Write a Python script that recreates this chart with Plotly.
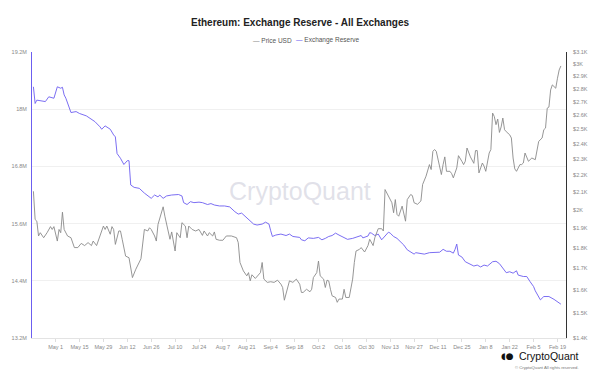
import math
import plotly.graph_objects as go

reserve_dates = [
    "2023-04-18", "2023-04-19", "2023-04-20", "2023-04-22", "2023-04-25", "2023-04-27", "2023-04-29", "2023-04-30",
    "2023-05-02", "2023-05-04", "2023-05-05", "2023-05-06", "2023-05-07", "2023-05-09", "2023-05-10", "2023-05-13",
    "2023-05-15", "2023-05-19", "2023-05-21", "2023-05-24", "2023-05-27", "2023-05-28", "2023-05-30", "2023-06-02",
    "2023-06-04", "2023-06-05", "2023-06-06", "2023-06-08", "2023-06-10", "2023-06-12", "2023-06-13", "2023-06-14",
    "2023-06-16", "2023-06-19", "2023-06-22", "2023-06-25", "2023-06-26", "2023-06-28", "2023-06-30", "2023-07-01",
    "2023-07-03", "2023-07-05", "2023-07-07", "2023-07-08", "2023-07-12", "2023-07-14", "2023-07-15", "2023-07-17",
    "2023-07-19", "2023-07-21", "2023-07-24", "2023-07-26", "2023-07-29", "2023-07-31", "2023-08-02", "2023-08-05",
    "2023-08-08", "2023-08-11", "2023-08-14", "2023-08-16", "2023-08-18", "2023-08-20", "2023-08-22", "2023-08-25",
    "2023-08-27", "2023-08-30", "2023-09-01", "2023-09-03", "2023-09-04", "2023-09-05", "2023-09-07", "2023-09-10",
    "2023-09-13", "2023-09-15", "2023-09-17", "2023-09-21", "2023-09-22", "2023-09-24", "2023-09-26", "2023-09-29",
    "2023-10-02", "2023-10-04", "2023-10-06", "2023-10-08", "2023-10-10", "2023-10-12", "2023-10-14", "2023-10-17",
    "2023-10-19", "2023-10-22", "2023-10-25", "2023-10-27", "2023-10-28", "2023-10-31", "2023-11-01", "2023-11-02",
    "2023-11-04", "2023-11-06", "2023-11-08", "2023-11-10", "2023-11-12", "2023-11-13", "2023-11-15", "2023-11-17",
    "2023-11-19", "2023-11-21", "2023-11-23", "2023-11-25", "2023-11-27", "2023-11-28", "2023-11-30", "2023-12-03",
    "2023-12-06", "2023-12-09", "2023-12-12", "2023-12-14", "2023-12-16", "2023-12-18", "2023-12-20", "2023-12-21",
    "2023-12-22", "2023-12-23", "2023-12-25", "2023-12-27", "2023-12-29", "2024-01-01", "2024-01-03", "2024-01-05",
    "2024-01-07", "2024-01-09", "2024-01-12", "2024-01-14", "2024-01-16", "2024-01-18", "2024-01-20", "2024-01-22",
    "2024-01-24", "2024-01-26", "2024-01-27", "2024-01-30", "2024-02-01", "2024-02-03", "2024-02-05", "2024-02-06",
    "2024-02-09", "2024-02-11", "2024-02-14", "2024-02-17", "2024-02-20", "2024-02-21",
]
reserve_values_m = [
    18.47, 18.12, 18.19, 18.18, 18.16, 18.26, 18.23, 18.23,
    18.47, 18.44, 18.46, 18.30, 18.23, 18.05, 17.93, 17.95,
    17.91, 17.86, 17.81, 17.74, 17.63, 17.58, 17.65, 17.58,
    17.46, 17.42, 17.07, 16.97, 16.84, 16.92, 16.92, 16.41,
    16.36, 16.34, 16.24, 16.15, 16.13, 16.20, 16.16, 16.20,
    16.13, 16.18, 16.20, 16.20, 16.21, 16.18, 16.04, 16.00,
    16.06, 16.04, 16.05, 16.04, 16.00, 16.02, 15.99, 15.97,
    15.97, 15.95, 15.85, 15.80, 15.82, 15.75, 15.68, 15.59,
    15.57, 15.59, 15.63, 15.59, 15.45, 15.33, 15.36, 15.38,
    15.35, 15.38, 15.33, 15.31, 15.26, 15.24, 15.30, 15.29,
    15.31, 15.26, 15.29, 15.33, 15.35, 15.40, 15.36, 15.30,
    15.27, 15.29, 15.33, 15.35, 15.30, 15.34, 15.41, 15.40,
    15.35, 15.38, 15.26, 15.35, 15.42, 15.40, 15.33, 15.29,
    15.22, 15.15, 15.05, 15.01, 14.96, 14.99, 14.98, 14.96,
    14.99, 15.00, 15.00, 15.06, 15.02, 15.02, 14.98, 15.06,
    15.17, 14.94, 14.90, 14.80, 14.76, 14.71, 14.73, 14.69,
    14.73, 14.71, 14.80, 14.81, 14.76, 14.66, 14.57, 14.59,
    14.56, 14.61, 14.52, 14.49, 14.49, 14.38, 14.28, 14.19,
    14.00, 14.07, 14.07, 14.01, 13.94, 13.91,
]

price_dates = [
    "2023-04-18", "2023-04-19", "2023-04-20", "2023-04-21", "2023-04-22", "2023-04-24", "2023-04-26", "2023-04-28",
    "2023-04-29", "2023-04-30", "2023-05-02", "2023-05-03", "2023-05-04", "2023-05-05", "2023-05-06", "2023-05-08",
    "2023-05-10", "2023-05-12", "2023-05-14", "2023-05-16", "2023-05-18", "2023-05-20", "2023-05-22", "2023-05-23",
    "2023-05-25", "2023-05-27", "2023-05-29", "2023-05-30", "2023-05-31", "2023-06-02", "2023-06-03", "2023-06-04",
    "2023-06-05", "2023-06-07", "2023-06-08", "2023-06-09", "2023-06-11", "2023-06-13", "2023-06-14", "2023-06-15",
    "2023-06-17", "2023-06-19", "2023-06-20", "2023-06-22", "2023-06-24", "2023-06-25", "2023-06-26", "2023-06-28",
    "2023-06-29", "2023-06-30", "2023-07-01", "2023-07-03", "2023-07-04", "2023-07-06", "2023-07-07", "2023-07-08",
    "2023-07-10", "2023-07-11", "2023-07-13", "2023-07-14", "2023-07-16", "2023-07-17", "2023-07-18", "2023-07-20",
    "2023-07-22", "2023-07-24", "2023-07-26", "2023-07-27", "2023-07-29", "2023-07-30", "2023-08-01", "2023-08-02",
    "2023-08-03", "2023-08-05", "2023-08-07", "2023-08-09", "2023-08-12", "2023-08-15", "2023-08-16", "2023-08-17",
    "2023-08-19", "2023-08-21", "2023-08-22", "2023-08-23", "2023-08-24", "2023-08-26", "2023-08-27", "2023-08-29",
    "2023-08-30", "2023-08-31", "2023-09-02", "2023-09-04", "2023-09-06", "2023-09-08", "2023-09-10", "2023-09-11",
    "2023-09-12", "2023-09-14", "2023-09-15", "2023-09-17", "2023-09-18", "2023-09-19", "2023-09-21", "2023-09-22",
    "2023-09-23", "2023-09-25", "2023-09-27", "2023-09-28", "2023-09-29", "2023-10-01", "2023-10-02", "2023-10-03",
    "2023-10-05", "2023-10-06", "2023-10-07", "2023-10-08", "2023-10-09", "2023-10-10", "2023-10-12", "2023-10-13",
    "2023-10-14", "2023-10-16", "2023-10-17", "2023-10-18", "2023-10-20", "2023-10-22", "2023-10-23", "2023-10-24",
    "2023-10-26", "2023-10-27", "2023-10-29", "2023-10-31", "2023-11-01", "2023-11-03", "2023-11-04", "2023-11-06",
    "2023-11-08", "2023-11-09", "2023-11-10", "2023-11-12", "2023-11-14", "2023-11-15", "2023-11-16", "2023-11-17",
    "2023-11-18", "2023-11-20", "2023-11-22", "2023-11-23", "2023-11-25", "2023-11-26", "2023-11-27", "2023-11-29",
    "2023-12-01", "2023-12-02", "2023-12-04", "2023-12-06", "2023-12-07", "2023-12-08", "2023-12-09", "2023-12-10",
    "2023-12-12", "2023-12-13", "2023-12-14", "2023-12-15", "2023-12-16", "2023-12-18", "2023-12-19", "2023-12-20",
    "2023-12-22", "2023-12-23", "2023-12-25", "2023-12-26", "2023-12-27", "2023-12-28", "2023-12-30", "2023-12-31",
    "2024-01-01", "2024-01-02", "2024-01-03", "2024-01-04", "2024-01-06", "2024-01-07", "2024-01-08", "2024-01-10",
    "2024-01-11", "2024-01-12", "2024-01-13", "2024-01-14", "2024-01-15", "2024-01-16", "2024-01-17", "2024-01-18",
    "2024-01-19", "2024-01-20", "2024-01-22", "2024-01-23", "2024-01-24", "2024-01-25", "2024-01-26", "2024-01-28",
    "2024-01-29", "2024-01-30", "2024-01-31", "2024-02-02", "2024-02-04", "2024-02-06", "2024-02-07", "2024-02-08",
    "2024-02-10", "2024-02-11", "2024-02-12", "2024-02-13", "2024-02-14", "2024-02-15", "2024-02-16", "2024-02-18",
    "2024-02-19", "2024-02-20", "2024-02-21",
]
price_values = [
    2105, 1946, 1937, 1859, 1876, 1850, 1876, 1908,
    1893, 1908, 1833, 1893, 1876, 1986, 1893, 1859,
    1850, 1800, 1800, 1821, 1810, 1825, 1810, 1833,
    1810, 1859, 1911, 1893, 1911, 1868, 1908, 1893,
    1816, 1885, 1885, 1842, 1758, 1750, 1710, 1656,
    1695, 1729, 1745, 1893, 1885, 1902, 1893, 1859,
    1833, 1920, 1956, 2016, 1964, 1885, 1842, 1880,
    1783, 1876, 1850, 1929, 1911, 1850, 1911, 1893,
    1885, 1893, 1862, 1885, 1859, 1876, 1859, 1880,
    1842, 1837, 1837, 1859, 1859, 1850, 1825, 1727,
    1687, 1664, 1679, 1641, 1669, 1652, 1662, 1679,
    1727, 1649, 1634, 1637, 1634, 1644, 1626, 1611,
    1555, 1611, 1641, 1634, 1641, 1649, 1626, 1589,
    1589, 1603, 1592, 1603, 1656, 1679, 1734, 1664,
    1649, 1611, 1644, 1641, 1603, 1574, 1567, 1546,
    1560, 1560, 1603, 1567, 1567, 1649, 1727, 1783,
    1791, 1800, 1778, 1810, 1842, 1810, 1850, 1897,
    1897, 1885, 2115, 2076, 2039, 1983, 2057, 1974,
    1964, 2020, 1937, 2057, 2086, 2080, 2039, 2030,
    2049, 2145, 2195, 2267, 2236, 2352, 2364, 2352,
    2246, 2205, 2267, 2316, 2225, 2225, 2211, 2185,
    2246, 2324, 2288, 2267, 2288, 2374, 2316, 2298,
    2275, 2357, 2357, 2215, 2277, 2257, 2225, 2341,
    2364, 2616, 2591, 2533, 2573, 2479, 2517, 2580,
    2498, 2484, 2463, 2441, 2309, 2240, 2225, 2267,
    2267, 2277, 2341, 2288, 2309, 2298, 2364, 2418,
    2441, 2498, 2509, 2652, 2660, 2790, 2829, 2803,
    2882, 2949, 2982,
]

reserve_ticks_m = [13.2, 14.4, 15.6, 16.8, 18.0, 19.2]
reserve_tick_text = ["13.2M", "14.4M", "15.6M", "16.8M", "18M", "19.2M"]
price_ticks = [1400, 1500, 1600, 1700, 1800, 1900, 2000, 2100, 2200, 2300,
               2400, 2500, 2600, 2700, 2800, 2900, 3000, 3100]
price_tick_text = ["$1.4K", "$1.5K", "$1.6K", "$1.7K", "$1.8K", "$1.9K", "$2K", "$2.1K", "$2.2K",
                   "$2.3K", "$2.4K", "$2.5K", "$2.6K", "$2.7K", "$2.8K", "$2.9K", "$3K", "$3.1K"]

PURPLE = "#6c5ef0"
GRAY = "#8a8a8a"
FONT = "Liberation Sans, Arial, sans-serif"

# plot area in pixels
L, R, T, B = 29, 572, 52, 338


def px(xp):
    return (xp - L) / (R - L)


def py(yp):
    return (B - yp) / (B - T)


fig = go.Figure()
fig.add_trace(go.Scatter(
    x=price_dates, y=price_values, name="Price USD", mode="lines",
    line=dict(color=GRAY, width=0.9), yaxis="y2"))
fig.add_trace(go.Scatter(
    x=reserve_dates, y=[v * 1e6 for v in reserve_values_m], name="Exchange Reserve", mode="lines",
    line=dict(color=PURPLE, width=0.9), yaxis="y"))

fig.update_layout(
    width=600, height=377,
    margin=dict(l=L, r=600 - R, t=T, b=377 - B),
    paper_bgcolor="white", plot_bgcolor="white",
    font=dict(family=FONT, color="#555"),
    showlegend=False,
    title=dict(text="<b>Ethereum: Exchange Reserve - All Exchanges</b>",
               x=0.5, xanchor="center", y=1 - 22 / 377, yanchor="middle",
               font=dict(size=10, color="#222", family=FONT)),
    xaxis=dict(
        type="date",
        range=["2023-04-17 04:00", "2024-02-24 00:00"],
        tick0="2023-05-01", dtick=14 * 86400000, tickformat="%b %-d",
        showgrid=False, showline=True, linecolor="#e3e3e3", linewidth=1,
        ticks="outside", ticklen=3, tickcolor="#dddddd",
        tickfont=dict(size=5.5, color="#888"),
    ),
    yaxis=dict(
        range=[13.2e6, 19.2e6],
        tickvals=[v * 1e6 for v in reserve_ticks_m], ticktext=reserve_tick_text,
        showgrid=True, gridcolor="#f0f0f0", gridwidth=1, zeroline=False,
        showline=True, linecolor=PURPLE, linewidth=1,
        tickfont=dict(size=5.5, color="#888"), ticks="", ticklabelstandoff=3,
    ),
    yaxis2=dict(
        type="log", overlaying="y", side="right",
        range=[math.log10(1400), math.log10(3100)],
        tickvals=price_ticks, ticktext=price_tick_text,
        showgrid=False, zeroline=False,
        showline=True, linecolor="#333", linewidth=1,
        tickfont=dict(size=5.5, color="#888"), ticks="", ticklabelstandoff=5,
    ),
)

annotations = [
    dict(text="<span style='color:%s'>—</span> Price USD" % GRAY, x=px(252), y=py(40),
         xanchor="left", yanchor="middle",
         font=dict(size=6.5, color="#555", family=FONT)),
    dict(text="<span style='color:%s'>—</span> Exchange Reserve" % PURPLE, x=px(295), y=py(40),
         xanchor="left", yanchor="middle",
         font=dict(size=6.5, color="#555", family=FONT)),
    dict(text="CryptoQuant", x=px(302), y=py(191),
         xanchor="center", yanchor="middle",
         font=dict(size=25, color="rgba(200,200,214,0.55)", family=FONT)),
    dict(text="◖●", x=px(521), y=py(356),
         xanchor="right", yanchor="middle",
         font=dict(size=9, color="#111", family="DejaVu Sans")),
    dict(text="CryptoQuant", x=px(587), y=py(356),
         xanchor="right", yanchor="middle",
         font=dict(size=10.5, color="#111", family=FONT)),
    dict(text="© CryptoQuant All rights reserved.", x=px(587), y=py(367),
         xanchor="right", yanchor="middle",
         font=dict(size=4.2, color="#777", family=FONT)),
]
for a in annotations:
    a["xref"] = "paper"
    a["yref"] = "paper"
    a["showarrow"] = False
fig.update_layout(annotations=annotations)

fig.write_html("out.html", config={"displayModeBar": False},
               post_script="document.body.style.margin='0';")
